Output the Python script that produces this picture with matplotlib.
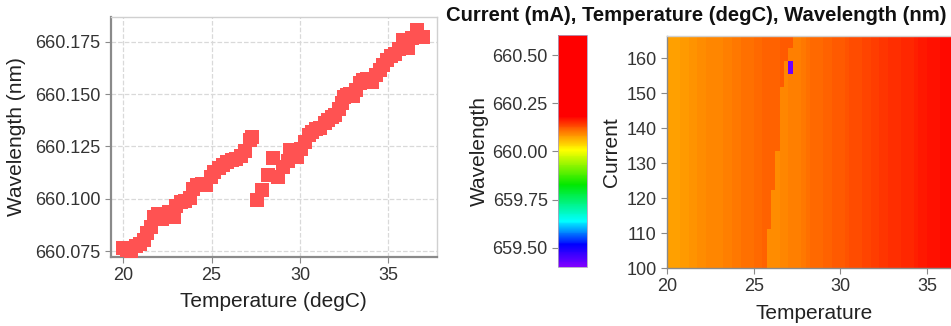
import matplotlib
matplotlib.use('Agg')
import matplotlib.pyplot as plt
from matplotlib.colors import LinearSegmentedColormap, Normalize
import matplotlib.cm as cm
import numpy as np

plt.rcParams['font.family'] = ['Liberation Sans', 'DejaVu Sans']

# scatter: wavelength vs temperature
scatter_temp = [20.0, 20.2, 20.45, 20.7, 20.95, 21.15, 21.35, 21.55, 21.75, 21.95,
                22.2, 22.4, 22.6, 22.85, 23.0, 23.25, 23.5, 23.75, 23.95, 24.2,
                24.45, 24.7, 24.95, 25.15, 25.4, 25.65, 25.9, 26.15, 26.4, 26.65,
                26.9, 27.15, 27.27,
                27.55, 27.83, 28.2, 28.49, 28.77, 29.05, 29.3, 29.43, 29.81, 30.05,
                30.28, 30.5, 30.66, 30.9, 31.13, 31.4, 31.6, 31.8, 31.98, 32.2,
                32.36, 32.5, 32.64, 32.85, 33.0, 33.2, 33.4, 33.58, 33.8, 34.06,
                34.3, 34.53, 34.7, 34.9, 35.15, 35.4, 35.6, 35.85, 36.13, 36.35,
                36.6, 36.98]
scatter_wl = [660.0765, 660.0755, 660.0752, 660.0775, 660.0785, 660.0805, 660.0835, 660.0865, 660.0915, 660.0925,
              660.0905, 660.0925, 660.0935, 660.0915, 660.0965, 660.0985, 660.0990, 660.1005, 660.1045, 660.1065,
              660.1070, 660.1065, 660.1105, 660.1130, 660.1145, 660.1160, 660.1175, 660.1185, 660.1190, 660.1205,
              660.1230, 660.1280, 660.1296,
              660.0994, 660.1040, 660.1113, 660.1193, 660.1105, 660.1150, 660.1180, 660.1233, 660.1200, 660.1240,
              660.1270, 660.1305, 660.1320, 660.1335, 660.1336, 660.1360, 660.1376, 660.1390, 660.1400, 660.1430,
              660.1456, 660.1485, 660.1495, 660.1500, 660.1490, 660.1520, 660.1555, 660.1567, 660.1570, 660.1560,
              660.1590, 660.1617, 660.1640, 660.1663, 660.1680, 660.1690, 660.1715, 660.1760, 660.1720, 660.1770,
              660.1806, 660.1774]

# heatmap: temperature columns (0.25 degC) and current rows (3.7 mA)
temp_edges = [20 + 0.25 * k for k in range(69)]
current_edges = [round(100 + 3.7 * k, 1) for k in range(19)]

# lower-temperature mode, columns 20.00 .. 27.25
mode_a_wl = [660.076, 660.076, 660.077, 660.079, 660.080, 660.083, 660.086, 660.090,
             660.091, 660.092, 660.092, 660.094, 660.096, 660.098, 660.099, 660.101,
             660.104, 660.106, 660.107, 660.107, 660.111, 660.113, 660.115, 660.117,
             660.118, 660.119, 660.120, 660.122, 660.124, 660.129]
# higher-temperature mode, columns 25.50 .. 36.75
mode_b_wl = [660.086, 660.088, 660.090, 660.091, 660.093, 660.095, 660.097, 660.098,
             660.099, 660.103, 660.107, 660.111, 660.114, 660.112, 660.115, 660.119,
             660.122, 660.121, 660.124, 660.127, 660.130, 660.132, 660.133, 660.135,
             660.137, 660.139, 660.140, 660.144, 660.147, 660.149, 660.149, 660.152,
             660.156, 660.157, 660.156, 660.159, 660.162, 660.165, 660.167, 660.169,
             660.171, 660.175, 660.173, 660.176, 660.180, 660.179]
mode_b_start = 25.5

# mode hop temperature by current band (band starts)
hop_current = [100, 109, 121, 131, 141, 149, 153, 156, 160, 163]
hop_temp = [25.75, 26.0, 26.25, 26.5, 26.5, 26.75, 26.75, 27.0, 27.25, 27.25]

# single outlier cell
outlier_temp = 27.0
outlier_current = 157
outlier_wl = 659.42

cb_ticks = [659.50, 659.75, 660.00, 660.25, 660.50]
wl_min, wl_max = 659.40, 660.604


def build_grid():
    n_rows = len(current_edges) - 1
    n_cols = len(temp_edges) - 1
    offset = int(round((mode_b_start - 20) / 0.25))
    grid = np.zeros((n_rows, n_cols))
    for i in range(n_rows):
        c = current_edges[i]
        hop = hop_temp[0]
        for hc, ht in zip(hop_current, hop_temp):
            if c >= hc:
                hop = ht
        for j in range(n_cols):
            t = temp_edges[j]
            if t < hop:
                grid[i, j] = mode_a_wl[j]
            else:
                grid[i, j] = mode_b_wl[j - offset]
    oi = np.searchsorted(current_edges, outlier_current) - 1
    oj = np.searchsorted(temp_edges, outlier_temp + 0.01) - 1
    grid[oi, oj] = outlier_wl
    return grid


def style_axes(ax):
    for s in ['left', 'bottom']:
        ax.spines[s].set_color('#8a8a8a')
        ax.spines[s].set_linewidth(1.6)
    for s in ['top', 'right']:
        ax.spines[s].set_color('#d0d0d0')
        ax.spines[s].set_linewidth(1.0)
    ax.tick_params(colors='#8a8a8a', labelcolor='#333333', labelsize=13, length=4)


def main():
    fig = plt.figure(figsize=(9.51, 3.26), dpi=100)

    # left scatter
    ax1 = fig.add_axes([0.1164, 0.2126, 0.3428, 0.7362])
    ax1.grid(True, linestyle='--', color='#d9d9d9', linewidth=0.9)
    ax1.set_axisbelow(True)
    ax1.scatter(scatter_temp, scatter_wl, marker='s', s=96, color='#ff5252',
                linewidths=0, zorder=3)
    ax1.set_xlim(19.29, 37.74)
    ax1.set_ylim(660.0723, 660.187)
    ax1.set_xticks([20, 25, 30, 35])
    ax1.set_yticks([660.075, 660.100, 660.125, 660.150, 660.175])
    ax1.set_yticklabels(['%.3f' % v for v in [660.075, 660.100, 660.125, 660.150, 660.175]])
    style_axes(ax1)
    ax1.set_xlabel('Temperature (degC)', fontsize=15, color='#222222', labelpad=6)
    ax1.set_ylabel('Wavelength (nm)', fontsize=15, color='#222222', labelpad=6)

    cmap = LinearSegmentedColormap.from_list('wl', [
        (0.0, '#8000ff'), (0.095, '#0000ff'), (0.197, '#00ffff'),
        (0.354, '#00e800'), (0.504, '#ffff00'), (0.58, '#ff8000'),
        (0.648, '#ff0000'), (1.0, '#ff0000')])
    norm = Normalize(vmin=wl_min, vmax=wl_max)

    # heatmap
    grid = build_grid()
    ax3 = fig.add_axes([0.7014, 0.1779, 0.3098, 0.7117])
    ax3.pcolormesh(temp_edges, current_edges, grid, cmap=cmap, norm=norm)
    ax3.set_xlim(20, 37)
    ax3.set_ylim(100, 166.3)
    ax3.set_xticks([20, 25, 30, 35])
    ax3.set_yticks([100, 110, 120, 130, 140, 150, 160])
    style_axes(ax3)
    ax3.spines['left'].set_linewidth(1.0)
    ax3.spines['bottom'].set_linewidth(1.0)
    ax3.set_xlabel('Temperature', fontsize=15, color='#222222', labelpad=6)
    ax3.set_ylabel('Current', fontsize=15, color='#222222', labelpad=4)

    # colorbar
    cax = fig.add_axes([0.5868, 0.181, 0.0305, 0.7117])
    cb = fig.colorbar(cm.ScalarMappable(norm=norm, cmap=cmap), cax=cax)
    cb.outline.set_edgecolor('#b0a0c0')
    cb.outline.set_linewidth(0.6)
    cax.yaxis.set_ticks_position('left')
    cax.yaxis.set_label_position('left')
    cb.set_ticks(cb_ticks)
    cb.set_ticklabels(['%.2f' % v for v in cb_ticks])
    cax.tick_params(colors='#8a8a8a', labelcolor='#333333', labelsize=13, length=4)
    cb.set_label('Wavelength', fontsize=15, color='#222222', labelpad=2)

    fig.text(0.732, 0.952, 'Current (mA), Temperature (degC), Wavelength (nm)',
             fontsize=14.6, fontweight='bold', ha='center', va='center', color='#111111')

    fig.savefig('out.png', dpi=100)


if __name__ == '__main__':
    main()
